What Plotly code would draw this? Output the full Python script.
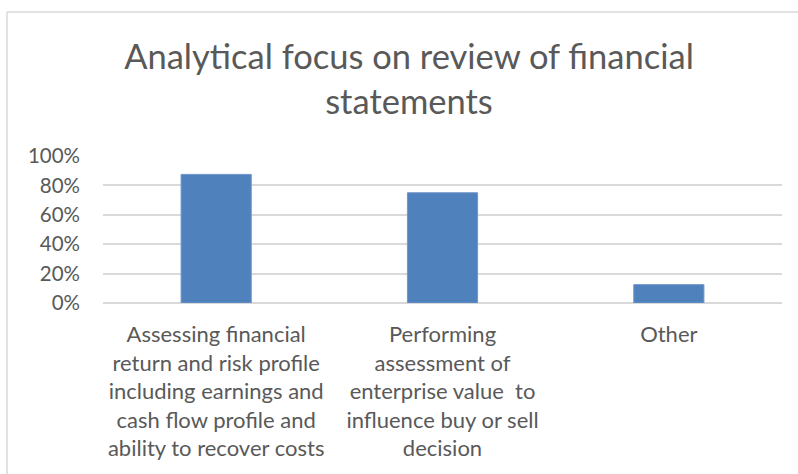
import plotly.graph_objects as go

categories = [
    "Assessing financial<br>return and risk profile<br>including earnings and<br>cash flow profile and<br>ability to recover costs",
    "Performing<br>assessment of<br>enterprise value  to<br>influence buy or sell<br>decision",
    "Other",
]
values = [0.875, 0.75, 0.125]
y_ticks = [0, 0.2, 0.4, 0.6, 0.8, 1.0]
y_tick_labels = ["0%", "20%", "40%", "60%", "80%", "100%"]
title_text = "Analytical focus on review of financial<br>statements"

FONT = "Lato, 'Open Sans', sans-serif"
GREY = "#595959"

fig = go.Figure(go.Bar(
    x=categories, y=values,
    marker=dict(color="#4F81BD", line=dict(color="#6F95C9", width=1)),
    width=0.31,
))

W, H = 798, 474
L, R, T, B = 103, 16, 156, 171
PW, PH = W - L - R, H - T - B
fig.update_layout(
    width=W, height=H,
    margin=dict(l=L, r=R, t=T, b=B),
    paper_bgcolor="white", plot_bgcolor="white",
    showlegend=False,
    title=dict(text=title_text, x=409 / W, xanchor="center", y=1 - 69 / H, yanchor="top",
               font=dict(family=FONT, size=34.5, color=GREY)),
    font=dict(family=FONT, color=GREY),
    xaxis=dict(showgrid=False, showline=False, ticks="", tickfont=dict(size=22, color=GREY),
               automargin=False, tickangle=0, ticklabelstandoff=16),
    yaxis=dict(range=[0, 1.0], tickvals=y_ticks, ticktext=y_tick_labels,
               showgrid=True, gridcolor="#D9D9D9", gridwidth=1.5,
               zeroline=True, zerolinecolor="#D9D9D9", zerolinewidth=1.5,
               showline=False, ticks="", tickfont=dict(size=20.5, color=GREY),
               automargin=False, ticklabelstandoff=22),
    shapes=[
        dict(type="line", xref="paper", yref="paper",
             x0=(7 - L) / PW, x1=(7 - L) / PW,
             y0=(H - 12 - B) / PH, y1=-B / PH,
             line=dict(color="#D9D9D9", width=1.5)),
        dict(type="line", xref="paper", yref="paper",
             x0=(7 - L) / PW, x1=(W - L) / PW,
             y0=(H - 12 - B) / PH, y1=(H - 12 - B) / PH,
             line=dict(color="#D9D9D9", width=1.5)),
    ],
)
fig.write_html("out.html", config={"displayModeBar": False},
               post_script="document.body.style.margin='0';")
